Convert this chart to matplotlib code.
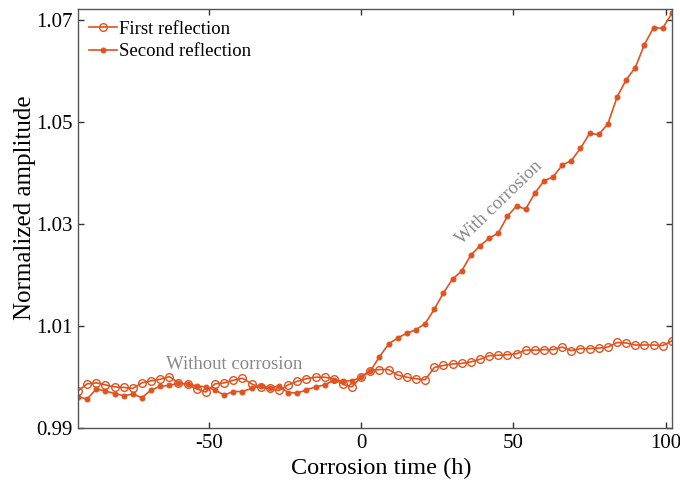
import matplotlib.pyplot as plt
import numpy as np

# tiempos de corrosion (h)
tiempo = np.arange(-93, 103, 3)

primera = [0.9973, 0.9987, 0.9989, 0.9985, 0.9981, 0.9980, 0.9978, 0.9989, 0.9993, 0.9996,
           1.0001, 0.9989, 0.9986, 0.9977, 0.9971, 0.9987, 0.9989, 0.9994, 0.9998, 0.9987,
           0.9980, 0.9978, 0.9974, 0.9985, 0.9992, 0.9997, 1.0000, 1.0000, 0.9997, 0.9986,
           0.9981, 1.0001, 1.0013, 1.0015, 1.0015, 1.0004, 1.0000, 0.9997, 0.9995, 1.0019,
           1.0023, 1.0026, 1.0027, 1.0030, 1.0035, 1.0042, 1.0043, 1.0044, 1.0046, 1.0053,
           1.0053, 1.0054, 1.0054, 1.0059, 1.0052, 1.0056, 1.0056, 1.0057, 1.0059, 1.0068,
           1.0067, 1.0063, 1.0063, 1.0063, 1.0062, 1.0071]

segunda = [0.9962, 0.9957, 0.9977, 0.9973, 0.9968, 0.9964, 0.9967, 0.9960, 0.9975, 0.9982,
           0.9984, 0.9988, 0.9987, 0.9983, 0.9981, 0.9975, 0.9965, 0.9972, 0.9972, 0.9978,
           0.9983, 0.9979, 0.9983, 0.9970, 0.9969, 0.9975, 0.9981, 0.9985, 0.9994, 0.9993,
           0.9993, 1.0000, 1.0012, 1.0040, 1.0065, 1.0077, 1.0086, 1.0093, 1.0105, 1.0133,
           1.0165, 1.0192, 1.0208, 1.0239, 1.0257, 1.0272, 1.0282, 1.0315, 1.0335, 1.0329,
           1.0360, 1.0384, 1.0392, 1.0415, 1.0424, 1.0448, 1.0477, 1.0475, 1.0496, 1.0548,
           1.0582, 1.0606, 1.0651, 1.0684, 1.0683, 1.0712]

xticks = [-50, 0, 50, 100]
yticks = [0.99, 1.01, 1.03, 1.05, 1.07]

color = '#E0531F'
plt.rcParams['font.family'] = ['Liberation Serif', 'DejaVu Serif']
plt.rcParams['axes.unicode_minus'] = False

fig = plt.figure(figsize=(6.8, 4.82), dpi=100)
ax = fig.add_axes([0.1147, 0.1114, 0.8733, 0.8693])

ax.plot(tiempo, primera, '-o', color=color, lw=1.2, ms=5.5, mfc='none', mew=1.0,
        label='First reflection')
ax.plot(tiempo, segunda, '-o', color=color, lw=1.2, ms=3.5, mew=0.8,
        label='Second reflection')

ax.set_xlim(-93, 102)
ax.set_ylim(0.99, 1.072)
ax.set_xticks(xticks)
ax.set_yticks(yticks)
ax.set_yticklabels(['%.2f' % v for v in yticks])
ax.tick_params(direction='in', top=True, right=True, length=4, width=1,
               labelsize=15, color='#333333', pad=4)
for s in ax.spines.values():
    s.set_color('#555555')
    s.set_linewidth(1.0)

ax.set_xlabel('Corrosion time (h)', fontsize=17.5)
ax.set_ylabel('Normalized amplitude', fontsize=18)
ax.xaxis.set_label_coords(0.51, -0.07, transform=ax.transAxes)
ax.yaxis.set_label_coords(-0.071, 0.526, transform=ax.transAxes)

ax.text(-41.7, 1.0024, 'Without corrosion', color='#888888', fontsize=13.5,
        ha='center', va='center')
ax.text(45.5, 1.0341, 'With corrosion', color='#888888', fontsize=13.5,
        ha='center', va='center', rotation=44, rotation_mode='anchor')

ax.legend(loc='upper left', frameon=False, fontsize=13.5, handlelength=1.5,
          handletextpad=0.1, borderaxespad=0.3, labelspacing=0.3,
          borderpad=0.3)

fig.savefig('out.png', dpi=100)
